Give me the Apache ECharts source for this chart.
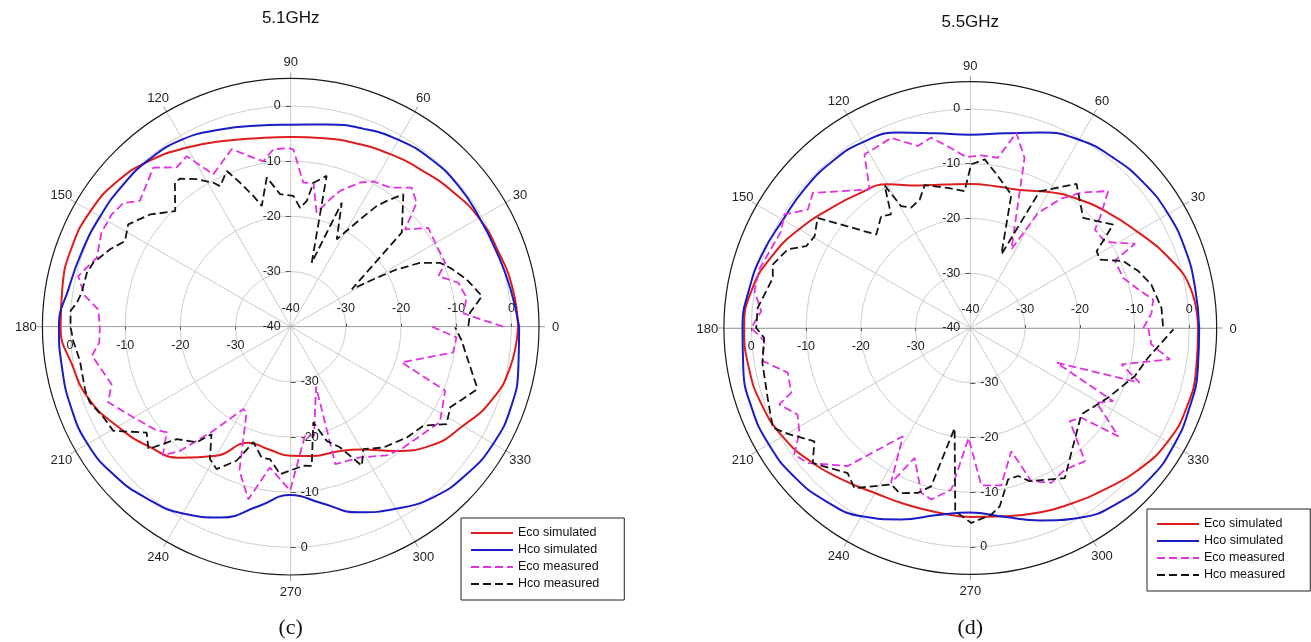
<!DOCTYPE html>
<html>
<head>
<meta charset="utf-8">
<script src="https://cdn.jsdelivr.net/npm/echarts@6.0.0/dist/echarts.min.js"></script>
<style>
  html, body { margin: 0; padding: 0; background: #ffffff; }
  #chart { width: 1311px; height: 642px; }
</style>
</head>
<body>
<div id="chart"></div>
<script>
// Radiation patterns (dB) of the co-polar planes at two frequencies.

// angles (deg) of the simulated curves
const SIM_ANGLES = [0,10,20,30,40,50,60,70,80,90,100,110,120,130,140,150,160,170,180,
                    190,200,210,220,230,240,250,260,270,280,290,300,310,320,330,340,350,360];

// 5.1 GHz simulated (dB)
const ECO_SIM_51 = [1.2,0.8,0.0,-0.6,-1.8,-3.0,-3.9,-4.7,-5.3,-5.6,-5.3,-4.2,-2.5,-0.6,1.0,1.9,2.2,2.0,1.7,
                    0.2,-1.2,-3.8,-6.3,-9.0,-13.0,-17.6,-17.4,-16.6,-16.2,-15.9,-14.3,-10.6,-6.6,-4.0,-1.2,0.5,1.2];
const HCO_SIM_51 = [1.4,0.4,-0.3,-0.5,-0.3,-0.4,-0.9,-1.8,-2.8,-3.4,-3.0,-2.0,-0.8,-0.3,-0.2,-0.1,0.2,0.8,2.0,
                    2.1,2.4,2.5,1.8,0.6,-0.9,-3.2,-7.0,-9.5,-7.5,-4.2,-1.9,0.3,1.6,2.4,2.5,1.9,1.4];

// 5.5 GHz simulated (dB)
const ECO_SIM_55 = [1.6,0.9,-1.7,-4.8,-7.2,-9.3,-11.3,-13.2,-13.7,-13.7,-13.4,-12.3,-9.7,-8.1,-6.3,-3.9,-1.5,0.5,1.3,
                    1.1,0.6,-0.4,-2.0,-3.8,-5.2,-5.7,-5.8,-5.5,-5.1,-4.1,-3.0,-1.6,0.2,1.6,2.1,1.9,1.6];
const HCO_SIM_55 = [1.8,1.7,1.8,1.7,1.3,0.6,-0.3,-2.0,-3.9,-4.7,-3.9,-2.0,-0.8,-0.5,-0.5,-0.5,0.3,1.0,1.6,
                    2.1,2.5,2.5,2.1,1.2,-0.3,-2.8,-5.3,-6.3,-5.0,-2.6,0.0,1.8,2.8,2.9,2.6,2.2,1.8];

// measured patterns: [angle deg, level dB]
const ECO_MEAS_51 = [
  [0,-1.5],[4.4,-8.6],[9.4,-7.7],[14.7,-8.6],[18.9,-11.7],[22.5,-9.7],[30.2,-9.7],[35.7,-9.3],
  [40.4,-12.8],[44.5,-8.0],[49.0,-6.6],[54.4,-9.0],[60.4,-9.7],[64.3,-11.0],[70.0,-13.8],[72.8,-15.8],
  [77.2,-18.8],[81.0,-13.6],[85.0,-13.8],[89.1,-7.9],[90.7,-7.6],[95.6,-7.7],[99.4,-9.6],[102.5,-8.6],
  [108.4,-6.1],[116.9,-9.0],[121.4,-3.8],[125.6,-4.5],[130.8,-1.9],[140.2,-4.4],[143.5,-2.3],[147.9,-1.7],
  [153.6,-1.7],[160.4,-2.7],[166.6,-0.4],[171.5,-2.3],[174.9,-5.0],[180,-5.4],[184.7,-5.2],[188.3,-3.6],
  [197.8,-5.9],[202.5,-4.2],[210.0,-7.1],[217.8,-9.3],[220.4,-10.5],[225.2,-7.1],[228.3,-9.9],[233.4,-16.5],
  [240.1,-22.8],[242.8,-22.5],[250.4,-12.3],[256.2,-7.8],[261.6,-14.2],[269.8,-10.3],[277.5,-20.1],[282.1,-19.8],
  [292.9,-28.2],[288.0,-13.8],[297.9,-13.2],[306.7,-10.9],[312.2,-10.1],[327.4,-7.9],[337.5,-9.7],[342.2,-18.9],
  [351.0,-10.2],[356.3,-9.9],[360,-14.4]
];
const HCO_MEAS_51 = [
  [0.2,-7.8],[4.5,-7.4],[6.4,-6.4],[9.1,-4.9],[15.1,-7.0],[20.3,-9.2],[23.2,-10.6],[26.3,-13.9],
  [28.4,-18.2],[29.8,-22.7],[31.5,-27.0],[40.3,-13.6],[49.6,-8.5],[52.6,-11.3],[54.5,-13.1],[57.1,-16.8],
  [62.2,-22.1],[67.6,-15.7],[71.8,-27.8],[76.6,-11.9],[81.0,-13.6],[82.7,-17.0],[85.5,-18.4],[88.8,-16.3],
  [94.6,-15.9],[99.1,-12.6],[103.5,-17.5],[105.9,-15.4],[109.4,-12.3],[112.3,-9.5],[116.7,-11.5],[118.2,-10.4],
  [122.5,-8.3],[126.8,-6.5],[128.8,-6.5],[135.0,-10.4],[141.4,-7.4],[147.8,-5.2],[152.7,-6.2],[156.8,-4.4],
  [162.0,-2.4],[165.2,-1.8],[170.8,-1.6],[173.6,-1.0],[175.9,0.0],[180,-0.1],[183.7,-0.5],[189.2,-1.3],
  [197.3,-1.0],[200.7,-1.1],[205.8,-2.3],[210.4,-2.7],[216.3,-7.6],[220.7,-6.0],[224.6,-11.0],[230.9,-13.0],
  [233.6,-15.8],[238.6,-11.9],[242.5,-10.9],[248.0,-13.8],[252.1,-18.0],[257.5,-15.7],[261.1,-15.7],[265.9,-13.2],
  [275.2,-14.7],[278.6,-14.5],[283.3,-22.2],[287.5,-18.3],[292.2,-16.4],[297.1,-11.7],[300.7,-14.2],[307.5,-12.4],
  [316.4,-10.9],[323.3,-10.0],[328.0,-6.7],[333.2,-7.6],[340.9,-4.6],[342.0,-4.5],[350.6,-7.7],[355.3,-8.9],
  [359.8,-10.2]
];
const ECO_MEAS_55 = [
  [0,-8.4],[4.7,-6.8],[8.8,-6.2],[12.9,-8.5],[18.1,-10.6],[25.0,-10.9],[27.1,-6.2],[32.6,-10.8],
  [38.3,-11.0],[40.4,-8.9],[44.8,-4.5],[50.6,-8.0],[54.9,-11.1],[59.5,-15.6],[62.4,-23.8],[72.3,-7.4],
  [76.7,-3.4],[80.8,-8.5],[86.4,-8.4],[91.3,-8.8],[96.1,-7.0],[101.6,-4.5],[106.1,-5.4],[112.6,-2.4],
  [121.4,-2.9],[126.0,-8.7],[139.4,-2.1],[143.9,-3.3],[148.6,-0.2],[152.9,-1.2],[164.5,0.0],[170.3,0.0],
  [175.4,-1.7],[180,0.0],[183.6,-2.3],[189.0,-1.6],[193.8,-5.7],[199.9,-5.2],[201.8,-2.4],[206.6,-4.7],
  [211.5,-3.4],[215.7,-0.4],[219.7,-1.4],[228.4,-6.3],[238.1,-16.7],[242.9,-8.2],[246.8,-14.2],[253.4,-8.6],
  [257.2,-7.9],[263.3,-10.3],[269.1,-19.9],[274.0,-11.2],[281.1,-10.7],[288.4,-16.3],[291.7,-9.9],[297.6,-8.1],
  [303.7,-8.9],[310.7,-7.9],[316.9,-15.1],[321.1,-13.9],[323.8,-6.5],[329.4,-13.2],[332.9,-10.7],[338.1,-23.0],
  [342.1,-7.5],[346.5,-11.6],[351.1,-3.1],[354.8,-6.8],[360,-7.5]
];
const HCO_MEAS_55 = [
  [0.5,-4.8],[6.0,-4.9],[13.5,-6.0],[18.7,-7.6],[23.6,-9.5],[27.8,-13.2],[31.3,-13.0],[33.8,-10.4],
  [35.9,-7.8],[44.3,-11.2],[53.6,-7.3],[63.1,-12.0],[67.1,-25.4],[72.9,-14.5],[79.7,-11.8],[85.1,-9.1],
  [89.7,-10.1],[92.4,-15.0],[99.1,-14.1],[107.7,-12.6],[111.5,-14.8],[116.2,-15.5],[119.6,-14.4],[121.0,-9.6],
  [124.9,-14.7],[128.6,-13.9],[135.2,-15.8],[144.2,-5.6],[149.5,-7.0],[153.5,-6.5],[156.7,-3.7],[162.2,-2.1],
  [165.8,-2.8],[174.6,-1.0],[180,-0.9],[182.7,-2.3],[189.5,-1.5],[199.4,-0.8],[206.8,0.4],[210.5,-1.7],
  [216.0,-4.8],[220.6,-2.1],[229.8,-5.3],[234.1,-3.9],[243.2,-8.0],[246.8,-7.2],[252.4,-8.4],[256.1,-10.2],
  [261.1,-21.5],[265.3,-6.4],[270.3,-4.4],[276.4,-5.7],[279.4,-7.0],[284.0,-11.5],[287.9,-11.6],[291.2,-10.0],
  [302.2,-7.6],[307.5,-10.1],[322.1,-14.3],[333.2,-11.8],[343.7,-8.7],[350.5,-7.1],[359.6,-2.9]
];

// axis ticks
const RADIUS_MIN = -40, RADIUS_MAX = 5, RADIUS_STEP = 10;
const RADIUS_LABELS = [-40, -30, -20, -10, 0];
const ANGLE_STEP = 30;

const SERIES_NAMES = ['Eco simulated', 'Hco simulated', 'Eco measured', 'Hco measured'];
const COLORS = { eco: '#dc1e1e', hco: '#1c1cc4', ecoMeas: '#e032e0', hcoMeas: '#141414' };
const FONT = '"Liberation Sans", Arial, sans-serif';

// layout of the two panels
const PANELS = [
  { title: '5.1GHz', caption: '(c)', center: [290.7, 326.7], radius: 248.3, titleY: 18,
    legendPos: { left: 461, top: 518 },
    eco: ECO_SIM_51, hco: HCO_SIM_51, ecoMeas: ECO_MEAS_51, hcoMeas: HCO_MEAS_51 },
  { title: '5.5GHz', caption: '(d)', center: [970.3, 328], radius: 246.4, titleY: 22,
    legendPos: { left: 1147, top: 509 },
    eco: ECO_SIM_55, hco: HCO_SIM_55, ecoMeas: ECO_MEAS_55, hcoMeas: HCO_MEAS_55 }
];

// four overlaid polar systems per panel: one carries the grid and data,
// the other three only place the dB scale along 90, 180 and 270 degrees
const AXIS_DIRS = [0, 90, 180, 270];

const polar = [], angleAxis = [], radiusAxis = [], series = [], legend = [], graphic = [];

PANELS.forEach((p, pi) => {
  AXIS_DIRS.forEach((dir, k) => {
    const idx = pi * 4 + k;
    const main = k === 0;
    const horizontal = (k % 2 === 0);
    polar.push({ center: p.center, radius: p.radius });
    angleAxis.push({
      polarIndex: idx, type: 'value', min: 0, max: 360, interval: ANGLE_STEP,
      startAngle: dir, clockwise: false, show: main,
      axisLine: { show: main, lineStyle: { color: '#1a1a1a', width: 1.2 } },
      axisTick: { show: main, length: 6, lineStyle: { color: '#9a9a9a' } },
      // a 1px text box keeps every degree label centred on its anchor point
      axisLabel: { show: main, margin: 16,
                   formatter: v => (v >= 360 ? '' : '{a|' + v + '}'),
                   rich: { a: { width: 1, height: 1, lineHeight: 1, align: 'center',
                                verticalAlign: 'middle', fontSize: 13, color: '#222',
                                fontFamily: FONT, padding: [2, 0, 0, 0] } } },
      splitLine: { show: main, lineStyle: { color: '#cbcbcb', width: 1 } }
    });
    const labelValues = RADIUS_LABELS.filter(v => !(v === RADIUS_MIN && k >= 2));
    radiusAxis.push({
      polarIndex: idx, type: 'value', min: RADIUS_MIN, max: RADIUS_MAX, interval: RADIUS_STEP,
      axisLine: { show: horizontal, lineStyle: { color: '#a8a8a8', width: 1.2 } },
      axisTick: { show: true, length: horizontal ? 3 : 5,
                  customValues: RADIUS_LABELS.slice(1),
                  lineStyle: { color: '#555' } },
      axisLabel: { show: true, margin: horizontal ? 12 : 10,
                   customValues: labelValues,
                   fontSize: 12.5, color: '#222', fontFamily: FONT,
                   formatter: v => String(v) },
      splitLine: { show: main, lineStyle: { color: ['#cfcfcf', '#cfcfcf', '#cfcfcf', '#cfcfcf', '#cfcfcf', 'rgba(0,0,0,0)'], width: 1 } }
    });
  });

  const pIdx = pi * 4;
  const simData = vals => vals.map((v, i) => [v, SIM_ANGLES[i]]);
  const measData = pts => pts.map(([a, v]) => [v, a]);
  series.push(
    { type: 'line', name: SERIES_NAMES[0], coordinateSystem: 'polar', polarIndex: pIdx,
      data: simData(p.eco), smooth: true, symbol: 'none',
      lineStyle: { color: COLORS.eco, width: 2 }, itemStyle: { color: COLORS.eco } },
    { type: 'line', name: SERIES_NAMES[1], coordinateSystem: 'polar', polarIndex: pIdx,
      data: simData(p.hco), smooth: true, symbol: 'none',
      lineStyle: { color: COLORS.hco, width: 2 }, itemStyle: { color: COLORS.hco } },
    { type: 'line', name: SERIES_NAMES[2], coordinateSystem: 'polar', polarIndex: pIdx,
      data: measData(p.ecoMeas), symbol: 'none',
      lineStyle: { color: COLORS.ecoMeas, width: 1.8, type: [8, 4] }, itemStyle: { color: COLORS.ecoMeas } },
    { type: 'line', name: SERIES_NAMES[3], coordinateSystem: 'polar', polarIndex: pIdx,
      data: measData(p.hcoMeas), symbol: 'none',
      lineStyle: { color: COLORS.hcoMeas, width: 1.8, type: [8, 4] }, itemStyle: { color: COLORS.hcoMeas } }
  );

  legend.push({
    data: SERIES_NAMES, orient: 'vertical', left: p.legendPos.left, top: p.legendPos.top,
    itemWidth: 42, itemHeight: 10, itemGap: 3, itemTextGap: 9,
    padding: [8, 25, 9, 9], borderColor: '#222', borderWidth: 1, borderRadius: 0,
    backgroundColor: '#fff', selectedMode: false,
    itemStyle: { color: 'rgba(0,0,0,0)', borderWidth: 0 },
    textStyle: { fontSize: 12.5, lineHeight: 14, color: '#111', fontFamily: FONT }
  });

  graphic.push(
    { type: 'text', x: p.center[0], y: p.titleY,
      style: { text: p.title, align: 'center', verticalAlign: 'middle', fill: '#111',
               font: '17px ' + FONT } },
    { type: 'text', x: p.center[0], y: 628,
      style: { text: p.caption, align: 'center', verticalAlign: 'middle', fill: '#111',
               font: '22px "Liberation Serif", "Times New Roman", serif' } }
  );
});

const chart = echarts.init(document.getElementById('chart'), null, { renderer: 'canvas' });
chart.setOption({
  backgroundColor: '#ffffff',
  animation: false,
  polar, angleAxis, radiusAxis, series, legend, graphic
});
</script>
</body>
</html>
